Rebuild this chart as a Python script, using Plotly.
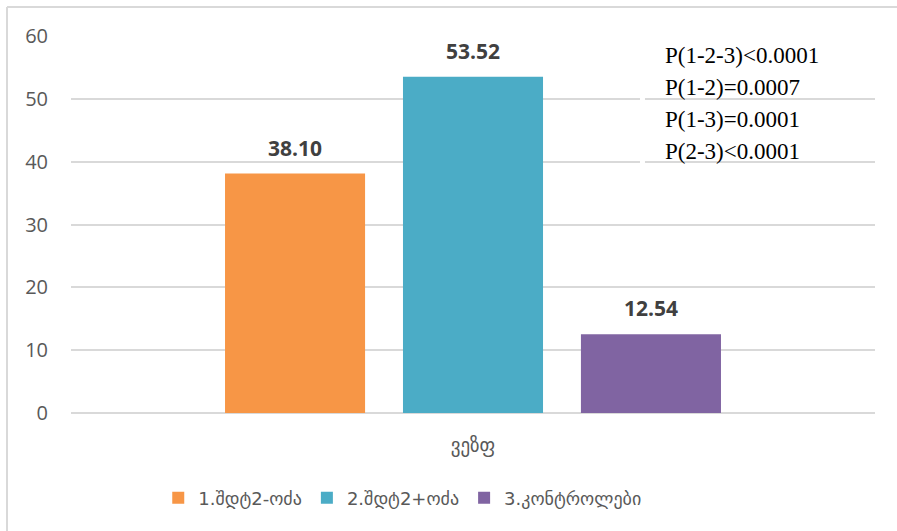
import plotly.graph_objects as go

# Data
category = ["ვეზფ"]
groups = ["1.შდტ2-ოძა", "2.შდტ2+ოძა", "3.კონტროლები"]
values = [38.10, 53.52, 12.54]
colors = ["#F79646", "#4BACC6", "#8064A2"]
p_values = ["P(1-2-3)<0.0001", "P(1-2)=0.0007", "P(1-3)=0.0001", "P(2-3)<0.0001"]
y_ticks = [0, 10, 20, 30, 40, 50, 60]

BARGAP = 0.336
BARGROUPGAP = 0.213
SANS = "Open Sans, DejaVu Sans, sans-serif"

fig = go.Figure()
for name, val, col in zip(groups, values, colors):
    fig.add_trace(go.Bar(
        x=category, y=[val], name=name,
        marker=dict(color=col, line=dict(width=0)),
        hoverinfo="skip",
    ))

# Value labels above each bar, placed at the centre of each group slot
slot = (1 - BARGAP) / len(values)
annotations = []
for i, val in enumerate(values):
    annotations.append(dict(
        x=(i - (len(values) - 1) / 2) * slot, y=val, xref="x", yref="y",
        text=f"<b>{val:.2f}</b>", showarrow=False, yanchor="bottom",
        yshift=10, font=dict(family=SANS, size=21, color="#404040"),
    ))

# Significance notes
for j, txt in enumerate(p_values):
    annotations.append(dict(
        x=0.7363, y=0.9496 - j * 0.0849, xref="paper", yref="paper",
        text=txt, showarrow=False, xanchor="left", yanchor="middle",
        font=dict(family="Liberation Serif, Times New Roman, serif", size=23, color="#000000"),
    ))

fig.update_layout(
    width=897, height=531,
    margin=dict(l=71, r=22, t=36, b=118),
    paper_bgcolor="white", plot_bgcolor="white",
    barmode="group", bargap=BARGAP, bargroupgap=BARGROUPGAP,
    font=dict(family=SANS, size=19, color="#595959"),
    xaxis=dict(
        range=[-0.5, 0.5], showgrid=False, showline=False, zeroline=False,
        ticks="", tickfont=dict(family="DejaVu Sans, sans-serif", size=19, color="#595959"),
        ticklabelstandoff=19,
    ),
    yaxis=dict(
        range=[0, 60], tickvals=y_ticks, showgrid=True, gridcolor="#D9D9D9",
        gridwidth=1.5, zeroline=True, zerolinecolor="#D9D9D9", zerolinewidth=1.5,
        showline=False, ticks="", ticklabelstandoff=22,
        tickfont=dict(family=SANS, size=20, color="#595959"),
    ),
    legend=dict(
        orientation="h", x=0.412, xanchor="center", y=-0.2255, yanchor="middle",
        font=dict(family="DejaVu Sans, sans-serif", size=18, color="#595959"),
        itemwidth=30, traceorder="normal",
    ),
    annotations=annotations,
    shapes=[
        # chart frame (left and top edges)
        dict(type="line", xref="paper", yref="paper", x0=-0.0796, x1=-0.0796, y0=-0.32, y1=1.0769,
             line=dict(color="#D9D9D9", width=2)),
        dict(type="line", xref="paper", yref="paper", x0=-0.0796, x1=1.03, y0=1.0769, y1=1.0769,
             line=dict(color="#D9D9D9", width=2)),
        # white margin of the text box over the gridlines
        dict(type="rect", xref="paper", yref="paper", x0=0.7077, x1=0.7139, y0=0.64, y1=1.01,
             fillcolor="white", line=dict(width=0), layer="above"),
    ],
)

fig.write_html("out.html")
